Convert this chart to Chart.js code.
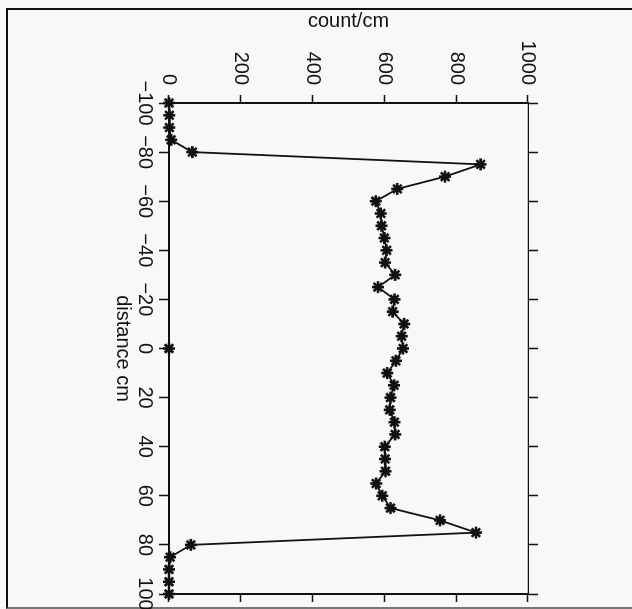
<!DOCTYPE html>
<html>
<head>
<meta charset="utf-8">
<script src="https://cdn.jsdelivr.net/npm/chart.js@4.4.1/dist/chart.umd.min.js"></script>
<style>
  html, body { margin: 0; padding: 0; background: #f8f8f8; }
  #wrap { position: relative; width: 632px; height: 609px; overflow: hidden; }
  #frame {
    position: absolute; left: 6px; top: 8px; width: 640px; height: 597px;
    border-top: 2px solid #111; border-left: 2px solid #111; border-bottom: 2px solid #777;
  }
  /* chart is drawn upright and then turned a quarter turn clockwise */
  #chart { position: absolute; left: 0; top: 0; transform-origin: 0 0; transform: translate(632px, 0) rotate(90deg); }
</style>
</head>
<body>
<div id="wrap">
  <div id="frame"></div>
  <canvas id="chart" width="609" height="632"></canvas>
</div>
<script>
// distance along the detector (cm)
const distance = [-100, -95, -90, -85, -80, -75, -70, -65, -60, -55, -50, -45, -40, -35, -30, -25, -20, -15, -10, -5,
                  0, 5, 10, 15, 20, 25, 30, 35, 40, 45, 50, 55, 60, 65, 70, 75, 80, 85, 90, 95, 100];
// counts per cm
const counts = [0, 1, 1, 6, 65, 868, 769, 636, 576, 590, 592, 600, 606, 602, 630, 582, 628, 623, 655, 648,
                652, 632, 608, 627, 617, 615, 628, 630, 601, 602, 603, 577, 594, 617, 755, 855, 61, 3, 0, 0, 0];
// lone marker sitting on the axis
const loneDistance = [0];
const loneCount = [0];

const countTicks = [0, 200, 400, 600, 800, 1000];
const distanceTicks = [-100, -80, -60, -40, -20, 0, 20, 40, 60, 80, 100];

const INK = '#111';
const FONT = { family: 'Liberation Sans', size: 20 };

function fixSize(w, h) {
  return function(scale) {
    if (w !== null) scale.width = w;
    if (h !== null) scale.height = h;
    scale.paddingLeft = 0;
    scale.paddingRight = 0;
    scale.paddingTop = 0;
    scale.paddingBottom = 0;
  };
}

function minusLabel(v) {
  return v < 0 ? '\u2212' + Math.abs(v) : String(v);
}

const chart = new Chart(document.getElementById('chart'), {
  type: 'scatter',
  data: {
    datasets: [{
      data: distance.map((d, i) => ({ x: d, y: counts[i] })),
      showLine: true,
      borderColor: INK,
      borderWidth: 1.8,
      pointStyle: 'star',
      pointRadius: 6,
      pointBorderWidth: 2.6,
      pointBorderColor: INK,
      pointBackgroundColor: INK,
      clip: false
    },
    {
      data: loneDistance.map((d, i) => ({ x: d, y: loneCount[i] })),
      showLine: false,
      pointStyle: 'star',
      pointRadius: 6,
      pointBorderWidth: 2.6,
      pointBorderColor: INK,
      clip: false
    }]
  },
  options: {
    responsive: false,
    animation: false,
    devicePixelRatio: 1,
    layout: { padding: 0 },
    plugins: { legend: { display: false }, tooltip: { enabled: false } },
    scales: {
      x: {
        type: 'linear',
        position: 'bottom',
        min: -100,
        max: 100,
        afterBuildTicks: (s) => { s.ticks = distanceTicks.map(v => ({ value: v })); },
        afterFit: fixSize(null, 169),
        ticks: { color: INK, font: FONT, padding: 2, maxRotation: 0, callback: minusLabel },
        grid: { drawOnChartArea: false, tickLength: 10, color: INK, tickWidth: 1.5 },
        border: { display: true, color: INK, width: 2 },
        title: { display: true, text: 'distance cm', color: INK, font: FONT, padding: { top: 0, bottom: 111 } }
      },
      x2: {
        type: 'linear',
        position: 'top',
        min: -100,
        max: 100,
        afterBuildTicks: (s) => { s.ticks = distanceTicks.map(v => ({ value: v })); },
        afterFit: fixSize(null, 104),
        ticks: { display: false },
        grid: { drawOnChartArea: false, tickLength: 10, color: INK, tickWidth: 1.5 },
        border: { display: true, color: INK, width: 1.2, dash: [3, 1] }
      },
      y: {
        type: 'linear',
        position: 'left',
        min: 0,
        max: 1000,
        afterBuildTicks: (s) => { s.ticks = countTicks.map(v => ({ value: v })); },
        afterFit: fixSize(103, null),
        ticks: { color: INK, font: FONT, padding: 10, callback: (v) => String(v) },
        grid: { drawOnChartArea: false, tickLength: 8, color: INK, tickWidth: 1.5 },
        border: { display: true, color: INK, width: 2 },
        title: { display: true, text: 'count/cm', color: INK, font: FONT, padding: { top: 9, bottom: 0 } }
      },
      y2: {
        type: 'linear',
        position: 'right',
        min: 0,
        max: 1000,
        afterBuildTicks: (s) => { s.ticks = countTicks.map(v => ({ value: v })); },
        afterFit: fixSize(15, null),
        ticks: { display: false },
        grid: { drawOnChartArea: false, tickLength: 8, color: INK, tickWidth: 1.5 },
        border: { display: true, color: INK, width: 2 }
      }
    }
  }
});
</script>
</body>
</html>
